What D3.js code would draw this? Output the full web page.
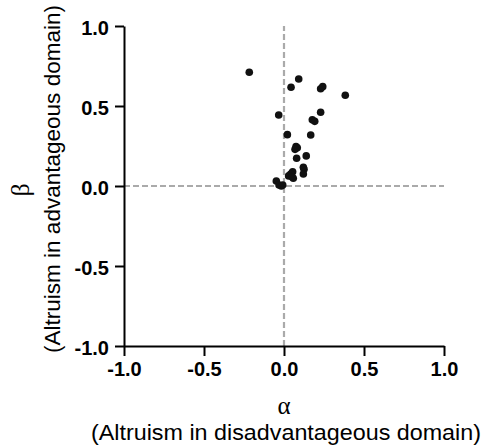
<!DOCTYPE html>
<html>
<head>
<meta charset="utf-8">
<script src="https://cdn.jsdelivr.net/npm/d3@7"></script>
<style>
  body { margin: 0; background: #fff; }
  text { font-family: Arial, "Liberation Sans", sans-serif; }
</style>
</head>
<body>
<div id="chart"></div>
<script>
// nilai alpha (altruism in disadvantageous domain)
var alphaVals = [-0.217, 0.092, 0.044, 0.229, 0.242, 0.383, -0.033, 0.229, 0.177, 0.192,
                 0.021, 0.167, 0.075, 0.083, 0.069, 0.079, 0.139, 0.121, 0.125, 0.121,
                 0.054, 0.042, 0.029, 0.058, 0.050, -0.048, -0.031, -0.017, -0.008];
// nilai beta (altruism in advantageous domain)
var betaVals = [0.711, 0.669, 0.617, 0.608, 0.621, 0.567, 0.444, 0.461, 0.414, 0.404,
                0.321, 0.319, 0.246, 0.239, 0.229, 0.173, 0.188, 0.117, 0.104, 0.075,
                0.089, 0.075, 0.063, 0.048, 0.058, 0.031, 0.006, 0.000, 0.006];
var tickVals = [-1.0, -0.5, 0.0, 0.5, 1.0];

var width = 482, height = 448;
var margin = { top: 26, right: 38, bottom: 102, left: 124 };

var svg = d3.select("#chart").append("svg")
    .attr("width", width)
    .attr("height", height);

var x = d3.scaleLinear().domain([-1, 1]).range([margin.left, width - margin.right]);
var y = d3.scaleLinear().domain([-1, 1]).range([height - margin.bottom, margin.top]);

// garis putus-putus di nol
svg.append("line")
    .attr("x1", x(-1)).attr("x2", x(1))
    .attr("y1", y(0)).attr("y2", y(0))
    .attr("stroke", "#aaa").attr("stroke-width", 2.2)
    .attr("stroke-dasharray", "6,3");
svg.append("line")
    .attr("x1", x(0)).attr("x2", x(0))
    .attr("y1", y(-1)).attr("y2", y(1))
    .attr("stroke", "#aaa").attr("stroke-width", 2.2)
    .attr("stroke-dasharray", "6,3");

// format pakai tanda minus biasa
var fmt = function(d) { return d3.format(".1f")(d).replace("−", "-"); };

var xAxis = svg.append("g")
    .attr("transform", "translate(0," + y(-1) + ")")
    .call(d3.axisBottom(x).tickValues(tickVals).tickFormat(fmt).tickSize(10).tickSizeOuter(0).tickPadding(6));
var yAxis = svg.append("g")
    .attr("transform", "translate(" + x(-1) + ",0)")
    .call(d3.axisLeft(y).tickValues(tickVals).tickFormat(fmt).tickSize(9).tickSizeOuter(0).tickPadding(6));

[xAxis, yAxis].forEach(function(ax) {
    ax.attr("font-family", null).attr("font-size", null);
    ax.select(".domain").attr("stroke", "#000").attr("stroke-width", 2);
    ax.selectAll(".tick line").attr("stroke", "#000").attr("stroke-width", 2);
    ax.selectAll(".tick text")
        .attr("fill", "#000")
        .attr("font-size", 20)
        .attr("font-weight", "bold");
});
yAxis.selectAll(".tick text").attr("dy", "0.4em");

// titik data
var points = alphaVals.map(function(a, i) { return { a: a, b: betaVals[i] }; });
svg.selectAll("circle.pt")
    .data(points)
    .enter()
    .append("circle")
    .attr("class", "pt")
    .attr("cx", function(d) { return x(d.a); })
    .attr("cy", function(d) { return y(d.b); })
    .attr("r", 3.8)
    .attr("fill", "#111");

// label sumbu x
svg.append("text")
    .attr("x", x(0)).attr("y", 414)
    .attr("text-anchor", "middle")
    .style("font-family", "'Liberation Serif', serif")
    .style("font-size", "25px")
    .text("α");
svg.append("text")
    .attr("x", 286).attr("y", 440)
    .attr("text-anchor", "middle")
    .attr("textLength", 390)
    .attr("lengthAdjust", "spacingAndGlyphs")
    .style("font-size", "22px")
    .text("(Altruism in disadvantageous domain)");

// label sumbu y
svg.append("text")
    .attr("transform", "translate(29,190) rotate(-90)")
    .attr("text-anchor", "middle")
    .style("font-family", "'Liberation Serif', serif")
    .style("font-size", "26px")
    .text("β");
svg.append("text")
    .attr("transform", "translate(60,179) rotate(-90)")
    .attr("text-anchor", "middle")
    .attr("textLength", 348)
    .attr("lengthAdjust", "spacingAndGlyphs")
    .style("font-size", "22px")
    .text("(Altruism in advantageous domain)");
</script>
</body>
</html>
